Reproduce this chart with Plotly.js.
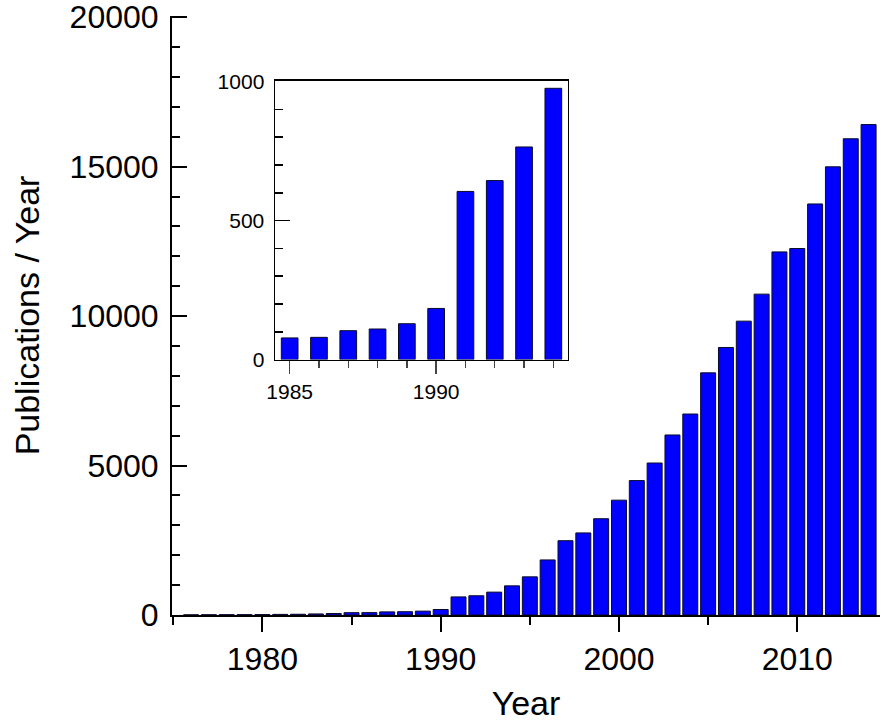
<!DOCTYPE html>
<html>
<head>
<meta charset="utf-8">
<script src="https://cdn.plot.ly/plotly-3.0.1.min.js"></script>
<style>html,body{margin:0;padding:0;background:#fff;}#chart{width:884px;height:722px;}</style>
</head>
<body>
<div id="chart"></div>
<script>
// Main chart: publications per year
const years = [1976,1977,1978,1979,1980,1981,1982,1983,1984,1985,1986,1987,1988,1989,1990,
  1991,1992,1993,1994,1995,1996,1997,1998,1999,2000,2001,2002,2003,2004,2005,2006,2007,2008,
  2009,2010,2011,2012,2013,2014];
const publications = [5,8,10,12,15,20,25,35,50,78,80,104,110,129,184,
  605,644,765,976,1277,1842,2486,2746,3221,3842,4497,5085,6023,6724,8102,8950,9831,10735,
  12148,12261,13752,14995,15933,16408];

// Inset: 1985-1994 detail
const insetYears = [1985,1986,1987,1988,1989,1990,1991,1992,1993,1994];
const insetPublications = [78,80,104,110,129,184,605,644,765,976];

// Tick labels
const mainXTicks = [1980,1990,2000,2010];
const mainYTicks = [0,5000,10000,15000,20000];
const insetXTicks = [1985,1990];
const insetYTicks = [0,500,1000];

const FONT = 'Liberation Sans, Arial, Helvetica, sans-serif';
const barColor = '#0000ff';
const edge = {color:'#0a0a2a', width:1};

const traces = [
  {type:'bar', x:years, y:publications, width:0.84,
   marker:{color:barColor, line:edge}, xaxis:'x', yaxis:'y', hoverinfo:'x+y'},
  {type:'bar', x:insetYears, y:insetPublications, width:0.57,
   marker:{color:barColor, line:edge}, xaxis:'x2', yaxis:'y2', hoverinfo:'x+y'}
];

const layout = {
  width:884, height:722,
  margin:{l:172, r:4, t:16, b:107},
  paper_bgcolor:'#fff', plot_bgcolor:'rgba(0,0,0,0)',
  showlegend:false,
  font:{family:FONT, color:'#000'},
  xaxis:{
    domain:[0,1], range:[1974.93, 2014.64], anchor:'y',
    tickmode:'array', tickvals:mainXTicks, ticktext:mainXTicks.map(String),
    ticks:'outside', ticklen:15, tickwidth:2, tickcolor:'#000',
    minor:{dtick:5, tick0:1975, ticks:'outside', ticklen:8, tickwidth:2, tickcolor:'#000'},
    showline:true, linecolor:'#000', linewidth:2,
    showgrid:false, zeroline:false,
    ticklabeloverflow:'allow',
    tickfont:{size:32, family:FONT, color:'#000'},
    title:{text:'Year', font:{size:34, family:FONT, color:'#000'}, standoff:16}
  },
  yaxis:{
    domain:[0,1], range:[0,20040], anchor:'x',
    tickmode:'array', tickvals:mainYTicks, ticktext:mainYTicks.map(String),
    ticks:'inside', ticklen:15, tickwidth:2, tickcolor:'#000',
    minor:{dtick:1000, tick0:0, ticks:'inside', ticklen:8, tickwidth:2, tickcolor:'#000'},
    showline:true, linecolor:'#000', linewidth:2,
    showgrid:false, zeroline:false,
    ticklabelstandoff:5,
    ticklabeloverflow:'allow',
    tickfont:{size:32, family:FONT, color:'#000'},
    title:{text:'Publications / Year', font:{size:34, family:FONT, color:'#000'}, standoff:20}
  },
  xaxis2:{
    domain:[0.1455, 0.5593], range:[1984.5, 1994.5], anchor:'y2',
    tickmode:'array', tickvals:insetXTicks, ticktext:insetXTicks.map(String),
    ticks:'outside', ticklen:13, tickwidth:1.5, tickcolor:'#444',
    minor:{dtick:1, tick0:1985, ticks:'outside', ticklen:7, tickwidth:1.5, tickcolor:'#444'},
    showline:true, mirror:true, linecolor:'#000', linewidth:1.5,
    showgrid:false, zeroline:false,
    tickfont:{size:21, family:FONT, color:'#000'}
  },
  yaxis2:{
    domain:[0.4264, 0.8918], range:[0,1003], anchor:'x2',
    tickmode:'array', tickvals:insetYTicks, ticktext:insetYTicks.map(String),
    ticks:'inside', ticklen:15, tickwidth:1.5, tickcolor:'#000',
    minor:{dtick:100, tick0:0, ticks:'inside', ticklen:8, tickwidth:1.5, tickcolor:'#000'},
    showline:true, mirror:true, linecolor:'#000', linewidth:1.5,
    showgrid:false, zeroline:false,
    ticklabelstandoff:5,
    tickfont:{size:21, family:FONT, color:'#000'}
  }
};

Plotly.newPlot('chart', traces, layout, {displayModeBar:false, staticPlot:true});
</script>
</body>
</html>
